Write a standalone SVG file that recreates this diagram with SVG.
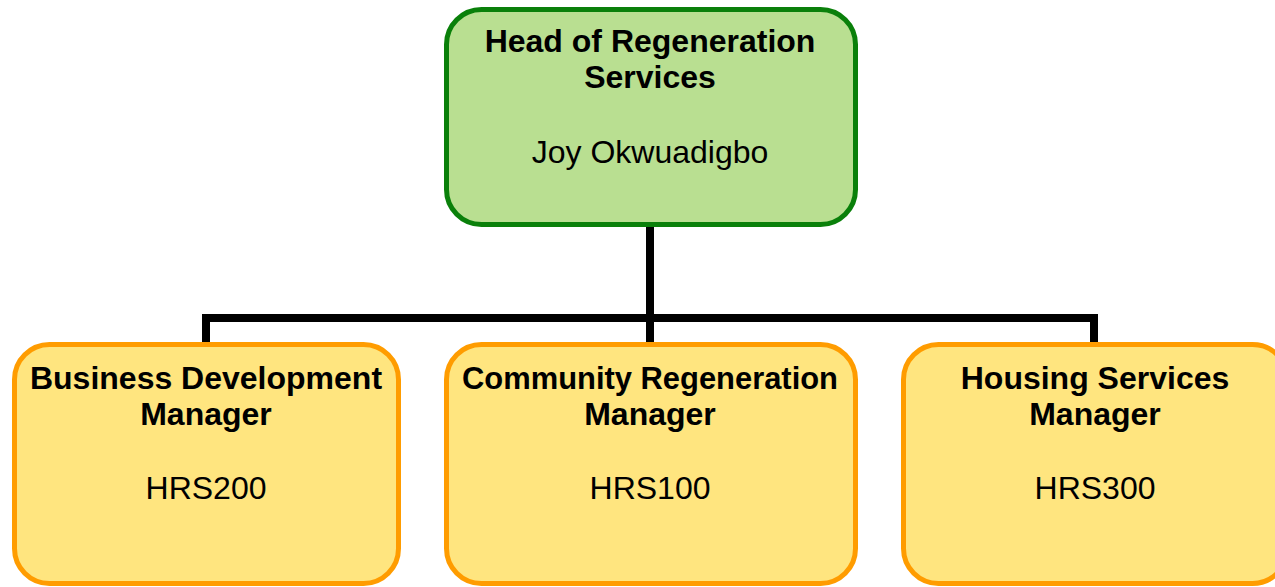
<svg xmlns="http://www.w3.org/2000/svg" width="1275" height="587" viewBox="0 0 1275 587">
<style>
.top{fill:#b9df91;stroke:#0a800a;stroke-width:5}
.sub{fill:#ffe57f;stroke:#ff9c00;stroke-width:5}
.conn{fill:none;stroke:#000;stroke-width:8;stroke-linejoin:miter}
text{font-family:"Liberation Sans",Arial,sans-serif;font-size:32px;fill:#000;text-anchor:middle}
.b{font-weight:bold}
</style>
<rect width="1275" height="587" fill="#fff"/>
<g id="connectors">
<path class="conn" d="M650 226 V318 M206 318 H1094 M206 314 V343 M650 318 V343 M1094 314 V343"/>
</g>
<g id="head">
<rect class="top" x="446.5" y="9.5" width="409" height="215" rx="35"/>
<text class="b" x="650" y="52">Head of Regeneration</text>
<text class="b" x="650" y="88">Services</text>
<text x="650" y="163">Joy Okwuadigbo</text>
</g>
<g id="business">
<rect class="sub" x="14.5" y="344.5" width="384" height="239" rx="35"/>
<text class="b" x="206" y="389">Business Development</text>
<text class="b" x="206" y="425">Manager</text>
<text x="206" y="499">HRS200</text>
</g>
<g id="community">
<rect class="sub" x="446.5" y="344.5" width="409" height="239" rx="35"/>
<text class="b" x="650" y="389" textLength="376" lengthAdjust="spacingAndGlyphs">Community Regeneration</text>
<text class="b" x="650" y="425">Manager</text>
<text x="650" y="499">HRS100</text>
</g>
<g id="housing">
<rect class="sub" x="903.5" y="344.5" width="384" height="239" rx="35"/>
<text class="b" x="1095" y="389">Housing Services</text>
<text class="b" x="1095" y="425">Manager</text>
<text x="1095" y="499">HRS300</text>
</g>
</svg>
